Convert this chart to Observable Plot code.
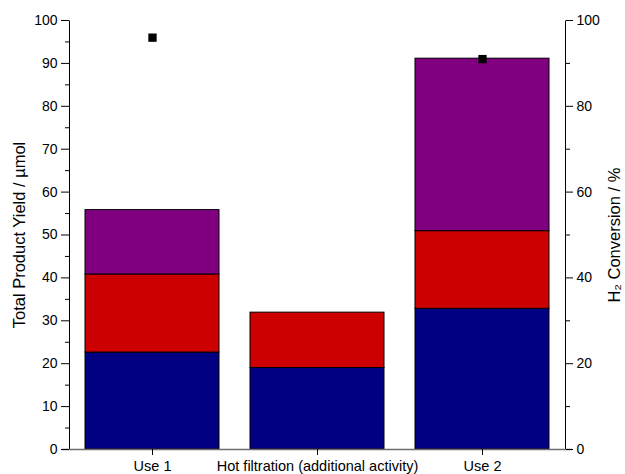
<!DOCTYPE html>
<html>
<head>
<meta charset="utf-8">
<script src="https://cdn.jsdelivr.net/npm/d3@7"></script>
<script src="https://cdn.jsdelivr.net/npm/@observablehq/plot@0.6"></script>
<style>
  html, body { margin: 0; padding: 0; background: #fff; }
  #chart svg { display: block; }
</style>
</head>
<body>
<div id="chart"></div>
<script>
// ---- data ----
const categories = ["Use 1", "Hot filtration (additional activity)", "Use 2"];
const series = ["Product 1", "Product 2", "Product 3"];
const product1 = [22.6, 19.0, 32.8];   // navy
const product2 = [18.2, 12.9, 18.1];   // red
const product3 = [15.0, 0.0, 40.2];    // purple
const conversion = [96.0, null, 91.0]; // H2 conversion, %
const leftTicks = [0, 10, 20, 30, 40, 50, 60, 70, 80, 90, 100];
const leftMinorTicks = [5, 15, 25, 35, 45, 55, 65, 75, 85, 95];
const rightTicks = [0, 20, 40, 60, 80, 100];
const rightMinorTicks = [10, 30, 50, 70, 90];
const colors = ["#000080", "#cc0000", "#800080"];

// ---- table ----
const seriesValues = [product1, product2, product3];
const bars = [];
series.forEach((s, si) => {
  categories.forEach((c, ci) => {
    bars.push({category: c, series: s, value: seriesValues[si][ci]});
  });
});
const points = categories
  .map((c, i) => ({category: c, value: conversion[i]}))
  .filter(d => d.value != null);

// ---- layout ----
const W = 625, H = 474;
const mL = 69, mR = 60, mT = 20, mB = 25;
const fw = W - mL - mR, fh = H - mT - mB;

const chart = Plot.plot({
  width: W,
  height: H,
  marginLeft: mL,
  marginRight: mR,
  marginTop: mT,
  marginBottom: mB,
  style: {fontFamily: "'Liberation Sans', Arial, sans-serif", fontSize: "14px", color: "#000", background: "#fff"},
  x: {domain: categories, paddingInner: 0.19, paddingOuter: 0.095, axis: null},
  y: {domain: [0, 100], axis: null},
  color: {domain: series, range: colors},
  marks: [
    Plot.barY(bars, Plot.stackY({x: "category", y: "value", fill: "series", stroke: "#000", strokeWidth: 1, order: series})),
    Plot.dot(points, {x: "category", y: "value", symbol: "square", fill: "#000", r: 4.7}),
    // vertical axis lines (left and right edges of frame)
    Plot.frame({stroke: "#000", strokeWidth: 1, strokeDasharray: `0,${fw},${fh},${fw},${fh}`}),
    // grey baseline
    Plot.ruleY([0], {stroke: "#6e6e6e", strokeWidth: 1.5, insetLeft: -7, insetRight: -7}),
    // left axis
    Plot.axisY(leftTicks, {anchor: "left", tickSize: 8, tickPadding: 4, label: null, fontSize: 14, stroke: "#000"}),
    Plot.axisY(leftMinorTicks, {anchor: "left", tickSize: 4, tickFormat: () => "", label: null, stroke: "#000"}),
    // right axis
    Plot.axisY(rightTicks, {anchor: "right", tickSize: 7, tickPadding: 4, label: null, fontSize: 14, stroke: "#000"}),
    Plot.axisY(rightMinorTicks, {anchor: "right", tickSize: 4, tickFormat: () => "", label: null, stroke: "#000"}),
    // x axis
    Plot.axisX({tickSize: 6, tickPadding: 5, label: null, fontSize: 14.5, stroke: "#000"}),
    // axis titles
    Plot.text(["Total Product Yield / µmol"], {frameAnchor: "left", dx: -50, rotate: -90, textAnchor: "middle", text: d => d, fontSize: 16.5, fill: "#000"}),
    Plot.text(["H₂ Conversion / %"], {frameAnchor: "right", dx: 49, rotate: -90, textAnchor: "middle", text: d => d, fontSize: 16.5, fill: "#000"})
  ]
});
document.getElementById("chart").appendChild(chart);
</script>
</body>
</html>
